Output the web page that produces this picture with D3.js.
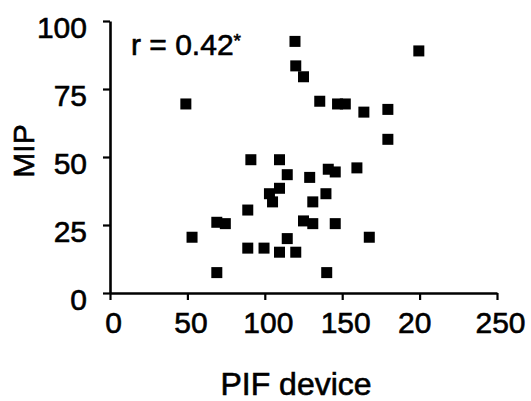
<!DOCTYPE html>
<html>
<head>
<meta charset="utf-8">
<script src="https://cdn.jsdelivr.net/npm/d3@7"></script>
<style>
  html, body { margin: 0; padding: 0; background: #fff; }
  svg { display: block; }
  text { font-family: "Liberation Sans", Arial, sans-serif; fill: #000; stroke: #000; stroke-width: 0.6px; }
</style>
</head>
<body>
<svg id="chart" width="531" height="401"></svg>
<script>
// ---- data ----
const pifDevice = [49, 53, 69, 74.5, 69, 89, 89, 91, 99.5, 103, 105, 109.5, 109.5, 109.5,
  114.5, 114.5, 120, 119.5, 120, 125, 125, 129, 131, 131, 135.5, 139.5, 140, 141, 145.5,
  145.5, 147, 152, 159.5, 164, 167.5, 179.5, 179.5, 199.5];
const mip = [69.5, 20.5, 26, 25.5, 7.5, 30.5, 16.5, 49, 16.5, 36.5, 33.5, 38.5, 49, 15,
  43.5, 20, 15, 92.5, 83.5, 79.5, 26.5, 42.5, 33.5, 25.5, 70.5, 36.5, 7.5, 45.5, 44.5,
  25.5, 69.5, 69.5, 46, 66.5, 20.5, 67.5, 56.5, 89];
const xTickValues = [0, 50, 100, 150, 200, 250];
const xTickLabels = ["0", "50", "100", "150", "20", "250"];
const yTickValues = [0, 25, 50, 75, 100];
const yTickLabels = ["0", "25", "50", "75", "100"];
const xTitle = "PIF device";
const yTitle = "MIP";
const annotation = "r = 0.42";
const annotationMark = "*";

// ---- layout ----
const svg = d3.select("#chart");
const x = d3.scaleLinear().domain([0, 250]).range([110, 497]);
const y = d3.scaleLinear().domain([0, 100]).range([293, 21]);

// x axis
const xAxis = svg.append("g")
  .attr("transform", `translate(0,${y(0)})`)
  .call(d3.axisBottom(x).tickValues(xTickValues)
    .tickFormat((d, i) => xTickLabels[i]).tickSize(7).tickSizeOuter(0));
xAxis.select(".domain").attr("stroke", "#000").attr("stroke-width", 2.6);
xAxis.selectAll(".tick line").attr("stroke", "#000").attr("stroke-width", 2.2);
xAxis.selectAll(".tick text")
  .attr("font-size", 30)
  .attr("font-family", "Liberation Sans, Arial, sans-serif")
  .attr("dy", null)
  .attr("y", 40)
  .each(function(d, i) {
    // place label where the full value would be centred
    const t = d3.select(this);
    t.text(String(d));
    const w = this.getComputedTextLength();
    t.text(xTickLabels[i]).attr("text-anchor", "start").attr("x", -w / 2 + 3);
  });

// y axis
const yAxis = svg.append("g")
  .attr("transform", `translate(${x(0)},0)`)
  .call(d3.axisLeft(y).tickValues(yTickValues)
    .tickFormat((d, i) => yTickLabels[i]).tickSize(7).tickSizeOuter(0));
yAxis.select(".domain").attr("stroke", "#000").attr("stroke-width", 2.6);
yAxis.selectAll(".tick line").attr("stroke", "#000").attr("stroke-width", 2.2);
yAxis.selectAll(".tick text")
  .attr("font-size", 30)
  .attr("font-family", "Liberation Sans, Arial, sans-serif")
  .attr("dy", null)
  .attr("y", 16)
  .attr("x", -23);

// points
svg.append("g").selectAll("rect")
  .data(pifDevice.map((v, i) => [v, mip[i]]))
  .join("rect")
  .attr("x", d => x(d[0]) - 5.5)
  .attr("y", d => y(d[1]) - 5.5)
  .attr("width", 11)
  .attr("height", 11)
  .attr("fill", "#000");

// annotation
const ann = svg.append("text")
  .attr("x", 131)
  .attr("y", 55)
  .attr("font-size", 30)
  .text(annotation);
ann.append("tspan")
  .attr("font-size", 19)
  .attr("dy", -8)
  .text(annotationMark);

// axis titles
svg.append("text")
  .attr("x", 296)
  .attr("y", 395)
  .attr("text-anchor", "middle")
  .attr("font-size", 32)
  .text(xTitle);

svg.append("text")
  .attr("transform", "translate(34,151) rotate(-90)")
  .attr("text-anchor", "middle")
  .attr("font-size", 30)
  .text(yTitle);
</script>
</body>
</html>
